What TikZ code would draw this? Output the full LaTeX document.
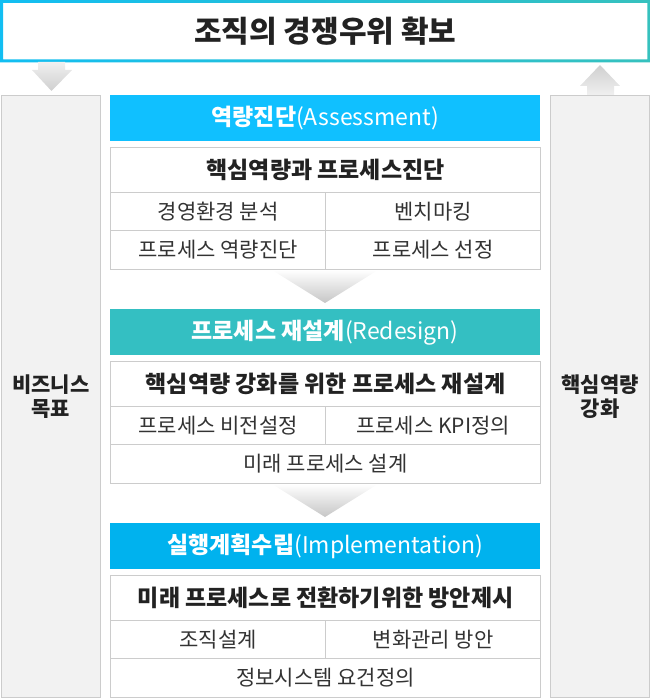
\documentclass[tikz,border=0pt]{standalone}
\usepackage{fontspec}
\setmainfont{Noto Sans CJK KR}
\definecolor{topcyan}{HTML}{12BEF2}
\definecolor{topteal}{HTML}{36C1BE}
\definecolor{hdrone}{HTML}{10C0FF}
\definecolor{hdrtwo}{HTML}{34BFC2}
\definecolor{hdrthree}{HTML}{00B2EE}
\definecolor{cellline}{HTML}{CCCCCC}
\definecolor{sidegray}{HTML}{F2F2F2}
\definecolor{txtdark}{HTML}{222222}
\definecolor{txtgray}{HTML}{333333}
\definecolor{arrowlight}{HTML}{F0F0F0}
\definecolor{arrowdark}{HTML}{CFCFCF}
\begin{document}
\begin{tikzpicture}[x=1pt, y=-1pt,
    hdr/.style={anchor=north west, minimum width=430pt, minimum height=46pt, inner sep=0pt, text=white, font=\fontsize{23}{27}\selectfont},
    cell/.style={draw=cellline, line width=1.2pt, fill=white, anchor=north west, inner sep=0pt, text=txtgray, font=\fontsize{21}{25}\selectfont},
    headcell/.style={cell, minimum width=430pt, minimum height=45pt, text=txtdark, font=\bfseries\fontsize{23}{27}\selectfont},
    side/.style={draw=cellline, line width=1.2pt, fill=sidegray, anchor=north west, minimum width=99pt, minimum height=602pt, inner sep=0pt, align=center, text=txtdark, font=\bfseries\fontsize{21}{24}\selectfont}]
  \useasboundingbox (0,0) rectangle (650,698);
  % top goal box
  \node[anchor=north west, minimum width=650pt, minimum height=62pt, inner sep=0pt, text=txtdark, font=\bfseries\fontsize{30}{34}\selectfont] (goal) at (0,0) {조직의 경쟁우위 확보};
  \shade[left color=topcyan, right color=topteal, even odd rule] (goal.north west) rectangle (goal.south east) ([shift={(3pt,-3pt)}]goal.north west) rectangle ([shift={(-3pt,3pt)}]goal.south east);
  % side columns and arrows
  \node[side] (biz) at (0.6,95) {비즈니스\\목표};
  \node[side] (core) at (550,95) {핵심역량\\강화};
  \shade[top color=arrowlight, bottom color=arrowdark] (38,62) -- (65,62) -- (65,70) -- (72,70) -- (51.5,91) -- (32,70) -- (38,70) -- cycle;
  \shade[top color=arrowdark, bottom color=arrowlight] (600,65) -- (620,86) -- (614,86) -- (614,95) -- (587,95) -- (587,86) -- (580,86) -- cycle;
  % assessment
  \node[hdr, fill=hdrone] (assess) at (110,95) {\textbf{역량진단}(Assessment)};
  \node[headcell] (diag) at (110,147) {핵심역량과 프로세스진단};
  \node[cell, minimum width=215pt, minimum height=38pt] (env) at (110,192) {경영환경 분석};
  \node[cell, minimum width=215pt, minimum height=38pt] (bench) at (325,192) {벤치마킹};
  \node[cell, minimum width=215pt, minimum height=39pt] (capdiag) at (110,230) {프로세스 역량진단};
  \node[cell, minimum width=215pt, minimum height=39pt] (select) at (325,230) {프로세스 선정};
  \shade[top color=white, bottom color=gray!45] (272,270) -- (378,270) -- (325,303) -- cycle;
  % redesign
  \node[hdr, fill=hdrtwo] (redesign) at (110,309) {\textbf{프로세스 재설계}(Redesign)};
  \node[headcell] (strength) at (110,361) {핵심역량 강화를 위한 프로세스 재설계};
  \node[cell, minimum width=215pt, minimum height=38pt] (vision) at (110,406) {프로세스 비전설정};
  \node[cell, minimum width=215pt, minimum height=38pt] (kpi) at (325,406) {프로세스 KPI정의};
  \node[cell, minimum width=430pt, minimum height=39pt] (future) at (110,444) {미래 프로세스 설계};
  \shade[top color=white, bottom color=gray!45] (272,484) -- (378,484) -- (325,517) -- cycle;
  % implementation
  \node[hdr, fill=hdrthree] (impl) at (110,523) {\textbf{실행계획수립}(Implementation)};
  \node[headcell] (plan) at (110,575) {미래 프로세스로 전환하기위한 방안제시};
  \node[cell, minimum width=215pt, minimum height=38pt] (org) at (110,620) {조직설계};
  \node[cell, minimum width=215pt, minimum height=38pt] (change) at (325,620) {변화관리 방안};
  \node[cell, minimum width=430pt, minimum height=39pt] (infosys) at (110,658) {정보시스템 요건정의};
\end{tikzpicture}
\end{document}
